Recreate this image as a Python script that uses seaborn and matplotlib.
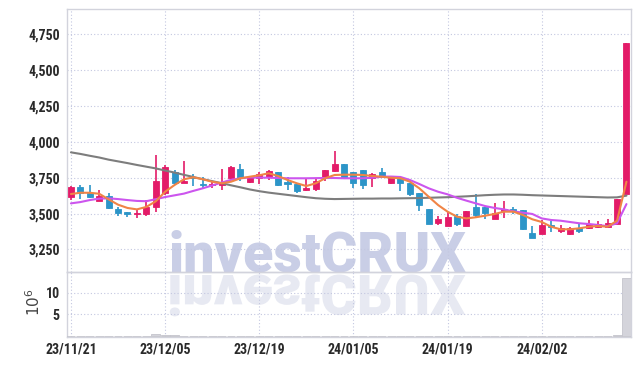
import numpy as np
import pandas as pd
import matplotlib
matplotlib.use("Agg")
import matplotlib.pyplot as plt
import seaborn as sns
from matplotlib import font_manager as fm
from matplotlib.textpath import TextPath
from matplotlib.patches import PathPatch
from matplotlib.transforms import Affine2D

# ---------------- data ----------------
tick_pos = [0, 10, 20, 30, 40, 50]
tick_labels = ["23/11/21", "23/12/05", "23/12/19", "24/01/05", "24/01/19", "24/02/02"]

opens = [3613, 3683, 3641, 3590, 3622, 3532, 3511, 3494, 3494, 3548,
         3645, 3788, 3715, 3757, 3706, 3697, 3701, 3745, 3811, 3720,
         3745, 3755, 3788, 3720, 3706, 3664, 3673, 3750, 3799, 3846,
         3788, 3804, 3750, 3790, 3715, 3753, 3711, 3641, 3529, 3432,
         3413, 3483, 3413, 3548, 3543, 3462, 3518, 3531, 3524, 3362,
         3357, 3420, 3380, 3357, 3397, 3397, 3408, 3404, 3427, 3636]
highs = [3692, 3697, 3697, 3665, 3645, 3548, 3511, 3527, 3594, 3906,
         3841, 3806, 3869, 3776, 3757, 3729, 3808, 3830, 3846, 3760,
         3788, 3804, 3790, 3757, 3715, 3748, 3748, 3806, 3938, 3848,
         3790, 3806, 3780, 3815, 3757, 3757, 3713, 3643, 3531, 3480,
         3510, 3500, 3520, 3634, 3546, 3575, 3587, 3545, 3526, 3410,
         3455, 3450, 3420, 3405, 3436, 3455, 3445, 3460, 3600, 4688]
lows = [3595, 3603, 3610, 3588, 3535, 3483, 3474, 3467, 3481, 3511,
        3631, 3697, 3713, 3690, 3676, 3676, 3664, 3743, 3729, 3715,
        3706, 3734, 3695, 3664, 3641, 3660, 3660, 3730, 3790, 3743,
        3676, 3669, 3687, 3745, 3705, 3659, 3620, 3518, 3425, 3420,
        3410, 3410, 3410, 3475, 3465, 3460, 3469, 3500, 3385, 3330,
        3355, 3369, 3365, 3350, 3362, 3395, 3400, 3400, 3425, 3636]
closes = [3683, 3641, 3613, 3622, 3541, 3506, 3499, 3506, 3548, 3727,
          3827, 3715, 3727, 3748, 3699, 3708, 3711, 3827, 3750, 3757,
          3773, 3794, 3697, 3704, 3659, 3678, 3729, 3804, 3846, 3745,
          3711, 3697, 3778, 3755, 3753, 3715, 3636, 3559, 3427, 3460,
          3474, 3427, 3518, 3490, 3501, 3501, 3531, 3518, 3392, 3331,
          3420, 3404, 3397, 3397, 3380, 3427, 3425, 3432, 3599, 4688]
volumes = [0.05, 0.05, 0.05, 0.05, 0.06, 0.05, 0.05, 0.05, 0.08, 0.45,
           0.25, 0.22, 0.08, 0.05, 0.05, 0.05, 0.05, 0.06, 0.05, 0.05,
           0.05, 0.05, 0.05, 0.05, 0.05, 0.05, 0.05, 0.06, 0.08, 0.05,
           0.05, 0.05, 0.05, 0.05, 0.05, 0.05, 0.05, 0.06, 0.08, 0.05,
           0.05, 0.05, 0.05, 0.06, 0.05, 0.05, 0.05, 0.05, 0.06, 0.06,
           0.05, 0.05, 0.05, 0.05, 0.05, 0.05, 0.05, 0.05, 0.30, 13.4]
ma_short = [3636, 3645, 3645, 3638, 3599, 3562, 3539, 3529, 3546, 3585,
            3652, 3699, 3739, 3753, 3739, 3722, 3711, 3722, 3746, 3757,
            3767, 3781, 3762, 3734, 3711, 3692, 3711, 3746, 3769, 3771,
            3771, 3769, 3762, 3757, 3750, 3746, 3722, 3676, 3617, 3559,
            3513, 3478, 3466, 3474, 3485, 3497, 3513, 3513, 3490, 3460,
            3441, 3408, 3390, 3390, 3397, 3408, 3413, 3408, 3450, 3722]
ma_mid = [3571, 3580, 3594, 3604, 3606, 3601, 3594, 3588, 3586, 3600,
          3615, 3627, 3639, 3658, 3676, 3696, 3716, 3735, 3746, 3752,
          3751, 3750, 3748, 3746, 3746, 3746, 3747, 3748, 3748, 3746,
          3746, 3746, 3750, 3757, 3758, 3755, 3734, 3706, 3676, 3652,
          3634, 3610, 3590, 3571, 3552, 3539, 3529, 3515, 3506, 3497,
          3466, 3455, 3450, 3441, 3432, 3427, 3420, 3412, 3432, 3566]
ma_long = [3927, 3916, 3903, 3891, 3876, 3864, 3852, 3839, 3827, 3815,
           3800, 3786, 3770, 3755, 3740, 3726, 3712, 3697, 3683, 3668,
           3656, 3646, 3638, 3630, 3622, 3614, 3607, 3603, 3601, 3602,
           3603, 3604, 3604, 3605, 3605, 3606, 3607, 3608, 3610, 3612,
           3614, 3617, 3620, 3624, 3628, 3631, 3633, 3633, 3631, 3628,
           3626, 3624, 3622, 3620, 3618, 3616, 3614, 3612, 3613, 3625]
watermark = "investCRUX"

# ---------------- style ----------------
sns.set_theme(style="white")
names = {f.name for f in fm.fontManager.ttflist}
cond = next((n for n in ["Liberation Sans Narrow", "Roboto Condensed",
                         "Open Sans Condensed", "DejaVu Sans"] if n in names), "DejaVu Sans")
wm_font = next((n for n in ["Roboto", "Lato", "DejaVu Sans"] if n in names), "DejaVu Sans")
plt.rcParams["font.family"] = [cond, "DejaVu Sans"]

RED = "#e31b68"
BLUE = "#2c95c8"
GRID = "#c3c7e0"
SPINE = "#d2d3dc"
TXT = "#2a2a2a"

x = np.arange(len(opens))
o = np.array(opens, float); c = np.array(closes, float)
h = np.array(highs, float); l = np.array(lows, float)
colors = [RED if cc >= oo else BLUE for oo, cc in zip(o, c)]

W, H = 639, 366
fig = plt.figure(figsize=(W / 100, H / 100), dpi=100)
fig.patch.set_facecolor("white")
ax = fig.add_axes([0.1044, 0.256, 0.8826, 0.7186])
axv = fig.add_axes([0.1044, 0.0784, 0.8826, 0.1776], sharex=ax)
for a in (ax, axv):
    a.set_facecolor("none")

# watermark (real text) and its mirrored reflection (graphic effect)
wm_fs = 40
wm_cx = 0.497 * W
wm_base = 272.0  # pixels from top
fig.text(wm_cx / W, 1 - wm_base / H, watermark, ha="center", va="baseline",
         fontsize=wm_fs, fontweight="black", family=wm_font, color="#c9cee6", zorder=-2)
fp = fm.FontProperties(family=wm_font, weight="black")
tp = TextPath((0, 0), watermark, size=1, prop=fp)
bb = tp.get_extents()
s = wm_fs * 100 / 72.0
x0 = wm_cx - (bb.x0 + bb.width / 2) * s
y0 = (H - wm_base) - 3
refl = PathPatch(tp, transform=Affine2D().scale(s, -s).translate(x0, y0),
                 facecolor="#e7e9f2", edgecolor="none", zorder=-2)
fig.add_artist(refl)

# candles
ax.vlines(x, l, h, colors=colors, lw=1.2, zorder=3)
body = np.maximum(np.abs(c - o), 6)
ax.bar(x, body, bottom=np.minimum(o, c), width=0.64, color=colors,
       edgecolor=colors, lw=0.6, zorder=3)

# moving averages
ma_df = pd.DataFrame({
    "idx": np.concatenate([x, x, x]),
    "val": ma_long + ma_mid + ma_short,
    "ma": ["long"] * len(x) + ["mid"] * len(x) + ["short"] * len(x),
})
sns.lineplot(data=ma_df, x="idx", y="val", hue="ma",
             palette={"long": "#7d7d7d", "mid": "#cc55ee", "short": "#f08446"},
             lw=1.5, legend=False, ax=ax, zorder=4)

ax.set_xlim(-0.45, 59.45)
ax.set_ylim(3090, 4925)
yt = [3250, 3500, 3750, 4000, 4250, 4500, 4750]
ax.set_yticks(yt)
ax.set_yticklabels([f"{v:,}" for v in yt])
ax.set_xticks(tick_pos)
ax.tick_params(axis="x", labelbottom=False, length=0)
ax.tick_params(axis="y", length=0, pad=5, labelsize=10, labelcolor=TXT)
for lab in ax.get_yticklabels():
    lab.set_fontweight("bold")
ax.set_xlabel(""); ax.set_ylabel("")
ax.grid(True, color=GRID, lw=0.8, ls=(0, (1, 2)))

# volume
axv.bar(x, volumes, width=0.95, color="#d4d4db", edgecolor="#c4c4cc", lw=0.6, zorder=3)
axv.set_ylim(-0.3, 14.7)
axv.set_yticks([5, 10])
axv.set_yticklabels(["5", "10"])
axv.set_xticks(tick_pos)
axv.set_xticklabels(tick_labels)
axv.tick_params(length=0, labelsize=10, labelcolor=TXT)
axv.tick_params(axis="y", pad=5)
axv.tick_params(axis="x", pad=4)
for lab in axv.get_xticklabels() + axv.get_yticklabels():
    lab.set_fontweight("bold")
axv.grid(True, color=GRID, lw=0.8, ls=(0, (1, 2)))
axv.set_xlabel(""); axv.set_ylabel("")
fig.text(0.052, 0.175, r"$10^6$", rotation=90, ha="center", va="center",
         fontsize=11, color="#444444")

for a in (ax, axv):
    for sp in a.spines.values():
        sp.set_color(SPINE)
        sp.set_linewidth(1.0)
        sp.set_visible(True)

fig.savefig("out.png", dpi=100, facecolor="white")
